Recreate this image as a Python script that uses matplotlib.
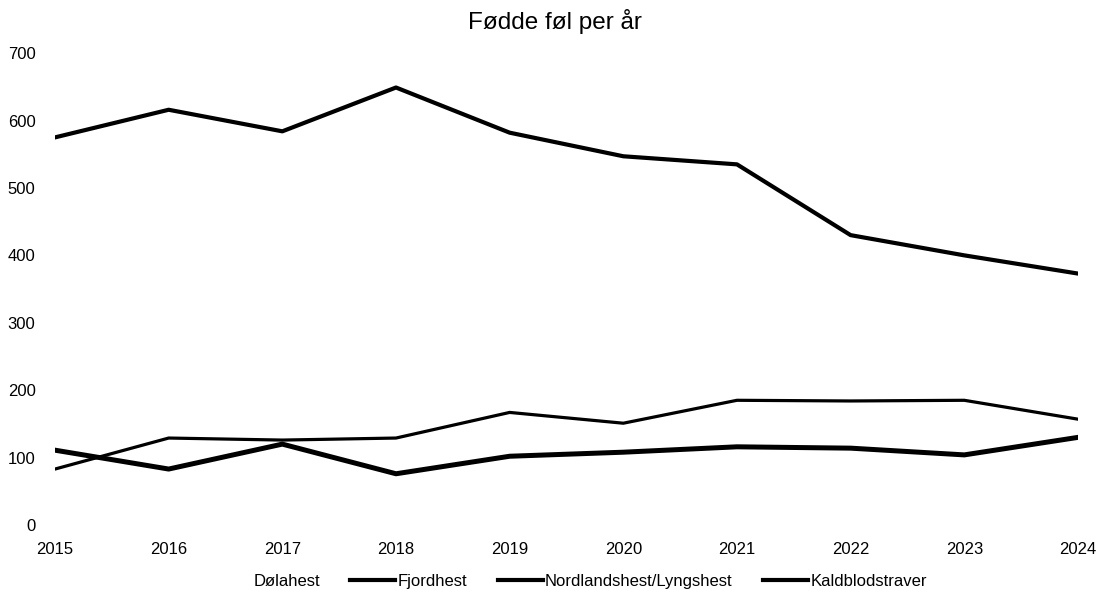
import matplotlib
matplotlib.use('Agg')
import matplotlib.pyplot as plt

plt.rcParams['font.family'] = ['Liberation Sans Narrow', 'Liberation Sans', 'DejaVu Sans']

# årstall og antall fødde føl (lest av figuren)
years = [2015, 2016, 2017, 2018, 2019, 2020, 2021, 2022, 2023, 2024]
dolahest = []  # ingen synlig linje i figuren
fjordhest = [575, 616, 584, 649, 582, 547, 535, 430, 400, 373]
nordland = [83, 129, 126, 129, 167, 151, 185, 184, 185, 157]
kaldblod = [111, 83, 120, 76, 102, 108, 116, 114, 104, 130]

fig = plt.figure(figsize=(11.09, 5.97), dpi=100)
ax = fig.add_axes([0.0496, 0.1206, 0.9224, 0.7904])

ax.plot(dolahest, dolahest, color='white', lw=3, label='Dølahest')
ax.plot(years, fjordhest, color='black', lw=3, label='Fjordhest')
ax.plot(years, nordland, color='black', lw=2.3, label='Nordlandshest/Lyngshest')
ax.plot(years, kaldblod, color='black', lw=3.6, label='Kaldblodstraver')

ax.set_xlim(2015, 2024)
ax.set_ylim(0, 700)
ax.set_xticks(years)
ax.set_yticks(range(0, 701, 100))
for s in ax.spines.values():
    s.set_visible(False)
ax.tick_params(length=0, labelsize=12)
ax.tick_params(axis='y', pad=14)
ax.tick_params(axis='x', pad=12)

fig.suptitle('Fødde føl per år', fontsize=17.5, y=0.985)
leg = ax.legend(loc='center', bbox_to_anchor=(0.5, -0.119), ncol=4, frameon=False,
                fontsize=12, handlelength=2.7, columnspacing=1.8, handletextpad=0.15,
                borderpad=0)
for h in leg.get_lines():
    h.set_linewidth(3)

fig.savefig('out.png', dpi=100)
